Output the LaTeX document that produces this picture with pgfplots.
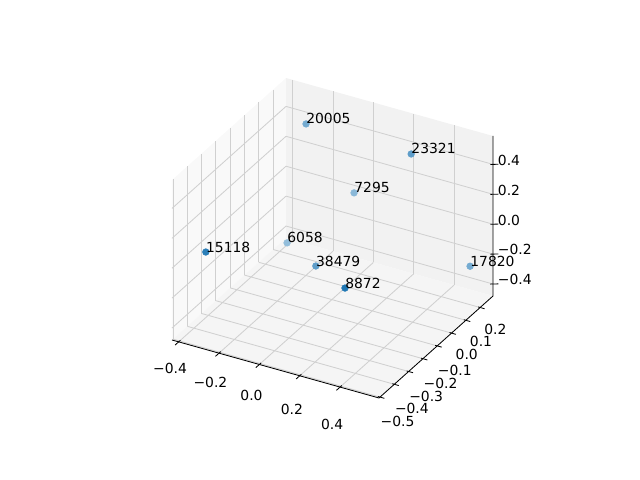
\documentclass[border=0pt]{standalone}
\usepackage{fontspec}
\setmainfont{DejaVu Sans}
\usepackage{pgfplots}
\usepackage{pgfplotstable}
\pgfplotsset{compat=1.18}
\usetikzlibrary{calc}
\definecolor{mplblue}{RGB}{31,119,180}
\definecolor{panex}{RGB}{249,249,249}
\definecolor{paney}{RGB}{242,242,242}
\definecolor{panez}{RGB}{245,245,245}
\definecolor{gridgray}{RGB}{208,208,208}
% depth shading: nearer points are darker
\colorlet{d45}{mplblue!48!white}
\colorlet{d50}{mplblue!52!white}
\colorlet{d60}{mplblue!62!white}
\colorlet{d70}{mplblue!72!white}
\colorlet{d90}{mplblue!95!white}
\colorlet{d100}{mplblue}

\pgfplotstableread{
x y z label
-0.221 0.131 0.499 20005
0.300 0.131 0.495 23321
0.017 0.131 0.128 7295
-0.315 0.131 -0.332 6058
-0.378 -0.348 -0.007 15118
-0.059 -0.029 -0.253 38479
0.255 -0.268 -0.077 8872
0.536 0.210 -0.234 17820
}\pts

\begin{document}
\begin{tikzpicture}
\begin{axis}[
    set layers,
    x={(145.26pt,-40.70pt)}, y={(102.99pt,92.15pt)}, z={(0pt,107.66pt)},
    xmin=-0.433, xmax=0.593, ymin=-0.507, ymax=0.29, zmin=-0.48, zmax=0.59,
    xtick={-0.4,-0.2,0,0.2,0.4},
    xticklabels={−0.4,−0.2,0.0,0.2,0.4},
    ytick={-0.5,-0.4,-0.3,-0.2,-0.1,0,0.1,0.2},
    yticklabels={−0.5,−0.4,−0.3,−0.2,−0.1,0.0,0.1,0.2},
    ztick={-0.4,-0.2,0,0.2,0.4},
    zticklabels={−0.4,−0.2,0.0,0.2,0.4},
    zticklabel pos=right,
    xtick pos=left, ytick pos=left, ztick pos=right,
    grid=major,
    major grid style={gridgray, line width=0.6pt},
    axis line style={draw=none},
    tick style={draw=none},
    major tick length=4pt,
    tick label style={font=\fontsize{10}{12}\selectfont},
    xticklabel style={yshift=-8.6pt-2.2pt*\ticknum, xshift=-1.5pt},
    yticklabel style={xshift=3pt, yshift=-5pt},
    clip=false,
]
\begin{pgfonlayer}{axis background}
\fill[panex] (axis cs:-0.433,-0.507,-0.48) -- (axis cs:-0.433,0.29,-0.48) -- (axis cs:-0.433,0.29,0.59) -- (axis cs:-0.433,-0.507,0.59) -- cycle;
\fill[paney] (axis cs:-0.433,0.29,-0.48) -- (axis cs:0.593,0.29,-0.48) -- (axis cs:0.593,0.29,0.59) -- (axis cs:-0.433,0.29,0.59) -- cycle;
\fill[panez] (axis cs:-0.433,-0.507,-0.48) -- (axis cs:0.593,-0.507,-0.48) -- (axis cs:0.593,0.29,-0.48) -- (axis cs:-0.433,0.29,-0.48) -- cycle;
\end{pgfonlayer}
% the three drawn axis lines
\draw[black, line width=0.6pt] (axis cs:-0.433,-0.507,-0.48) -- (axis cs:0.593,-0.507,-0.48) -- (axis cs:0.593,0.29,-0.48) -- (axis cs:0.593,0.29,0.59);
% tick marks
\pgfplotsinvokeforeach{-0.4,-0.2,0,0.2,0.4}{
  \draw[black, line width=0.6pt] (axis cs:#1,-0.495,-0.48) -- (axis cs:#1,-0.532,-0.48);
  \draw[black, line width=0.6pt] (axis cs:0.583,0.285,#1) -- (axis cs:0.613,0.30,#1);
}
\pgfplotsinvokeforeach{-0.5,-0.4,-0.3,-0.2,-0.1,0,0.1,0.2}{
  \draw[black, line width=0.6pt] (axis cs:0.583,#1,-0.48) -- (axis cs:0.615,#1,-0.48);
}
\coordinate (O) at (axis cs:-0.433,-0.507,-0.48);

\addplot3[scatter, only marks, mark=*, mark size=2.4pt,
    point meta=explicit symbolic,
    scatter/classes={
        20005={d60},
        23321={d70},
        7295={d50},
        6058={d45},
        15118={d90},
        38479={d70},
        8872={d100},
        17820={d60}},
] table[x=x, y=y, z=z, meta=label] {\pts};
\addplot3[draw=none, mark=none, point meta=explicit symbolic,
    nodes near coords,
    every node near coord/.append style={anchor=base west, inner sep=0pt, text=black, font=\fontsize{10}{12}\selectfont},
] table[x=x, y=y, z=z, meta=label] {\pts};
\end{axis}
\pgfresetboundingbox
\path[use as bounding box] ($(O)+(-123.84pt,-100.8pt)$) rectangle ($(O)+(336.96pt,244.8pt)$);
\end{tikzpicture}
\end{document}
